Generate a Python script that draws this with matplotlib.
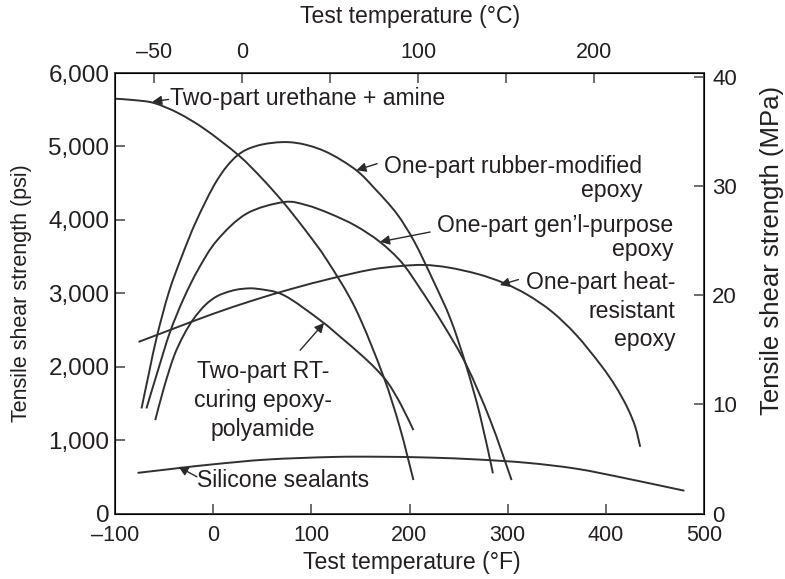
import matplotlib
matplotlib.use("Agg")
import matplotlib.pyplot as plt
import numpy as np
from matplotlib.path import Path
from matplotlib.patches import PathPatch
from matplotlib.ticker import FuncFormatter, FixedLocator

plt.rcParams['font.family'] = ['Liberation Sans', 'DejaVu Sans']

# ---- data ----
urethane_F = [-100, -80, -60, -35, -8, 26, 50, 72, 95, 116, 145, 173, 190, 204]
urethane_psi = [5650, 5630, 5590, 5450, 5230, 4878, 4560, 4229, 3840, 3449, 2790, 1884, 1180, 456]

rubber_F = [-73, -65, -57, -45, -32, -17, 4, 24, 45, 72, 95, 119, 146, 165, 187, 205, 224, 242, 258, 272, 285]
rubber_psi = [1431, 1940, 2430, 3020, 3500, 3990, 4540, 4870, 5010, 5059, 5020, 4901, 4673, 4420, 4084, 3700, 3177, 2640, 2000, 1330, 547]

general_F = [-68, -56, -44, -30, -15, 4, 34, 72, 95, 119, 145, 170, 192, 211, 235, 258, 282, 304]
general_psi = [1431, 1960, 2470, 2930, 3330, 3721, 4084, 4242, 4200, 4084, 3920, 3698, 3420, 3060, 2560, 2020, 1280, 456]

rt_F = [-59, -50, -40, -30, -20, -8, 4, 18, 30, 45, 72, 109, 130, 150, 165, 178, 191, 204]
rt_psi = [1272, 1720, 2140, 2430, 2650, 2840, 2960, 3030, 3060, 3060, 2973, 2633, 2400, 2170, 1980, 1780, 1490, 1136]

heat_F = [-76, -40, 0, 40, 80, 120, 160, 190, 215, 240, 270, 296, 320, 345, 370, 395, 410, 422, 430, 435]
heat_psi = [2337, 2520, 2720, 2900, 3060, 3200, 3320, 3370, 3385, 3350, 3260, 3140, 2980, 2750, 2430, 2020, 1730, 1440, 1180, 909]

silicone_F = [-77, -34, 0, 55, 122, 170, 220, 270, 320, 370, 420, 480]
silicone_psi = [553, 620, 670, 735, 770, 773, 762, 735, 690, 610, 480, 310]

f_ticks = [-100, 0, 100, 200, 300, 400, 500]
psi_ticks = [0, 1000, 2000, 3000, 4000, 5000, 6000]
c_ticks = [-50, 0, 50, 100, 150, 200]
c_labels = ['\u201350', '0', '', '100', '', '200']
mpa_ticks = [0, 10, 20, 30, 40]

LINE = '#303030'
TXT = '#231f20'
AX = '#444444'

W, H = 785, 579
fig = plt.figure(figsize=(W / 100, H / 100), dpi=100)
L, R, T, B = 115, 704, 73, 513.5
ax = fig.add_axes([L / W, 1 - B / H, (R - L) / W, (B - T) / H])
ax.set_xlim(-100, 500)
ax.set_ylim(0, 6000)

for s in ax.spines.values():
    s.set_color(AX)
    s.set_linewidth(1.3)

tick_kw = dict(direction='in', length=7.5, width=1.1, color=AX, labelcolor=TXT)
ax.tick_params(axis='both', **tick_kw)
ax.tick_params(axis='x', pad=8.5, labelsize=15.5)
ax.tick_params(axis='y', pad=4, labelsize=17.5)
ax.xaxis.set_major_locator(FixedLocator(f_ticks))
ax.yaxis.set_major_locator(FixedLocator(psi_ticks))
ax.xaxis.set_major_formatter(FuncFormatter(lambda v, p: ('\u2013%d' % -v) if v < 0 else '%d' % v))
ax.yaxis.set_major_formatter(FuncFormatter(lambda v, p: '{:,.0f}'.format(v)))

# top axis (deg C)
axt = ax.twiny()
axt.set_xlim(-72.2, 262.5)
axt.xaxis.set_major_locator(FixedLocator(c_ticks))
axt.set_xticklabels(c_labels)
axt.tick_params(axis='x', labelsize=15.5, pad=7, **tick_kw)
for s in axt.spines.values():
    s.set_color(AX)
    s.set_linewidth(1.3)

# right axis (MPa)
axr = ax.twinx()
axr.set_ylim(0, 40.37)
axr.yaxis.set_major_locator(FixedLocator(mpa_ticks))
axr.tick_params(axis='y', labelsize=16, pad=6, **tick_kw)


def smooth_curve(xs, ys):
    """Catmull-Rom curve through the read points, drawn as cubic Bezier path."""
    p = np.column_stack([xs, ys]).astype(float)
    n = len(p)
    verts = [p[0]]
    codes = [Path.MOVETO]
    for i in range(n - 1):
        p0 = p[i - 1] if i > 0 else p[i]
        p1 = p[i]
        p2 = p[i + 1]
        p3 = p[i + 2] if i + 2 < n else p[i + 1]
        c1 = p1 + (p2 - p0) / 6.0
        c2 = p2 - (p3 - p1) / 6.0
        verts += [c1, c2, p2]
        codes += [Path.CURVE4] * 3
    return Path(verts, codes)


for xs, ys in [(urethane_F, urethane_psi), (rubber_F, rubber_psi), (general_F, general_psi),
               (rt_F, rt_psi), (heat_F, heat_psi), (silicone_F, silicone_psi)]:
    ax.add_patch(PathPatch(smooth_curve(xs, ys), facecolor='none', edgecolor=LINE, lw=1.4,
                           capstyle='butt'))

afs = 16.6
arrow = dict(arrowstyle='-|>', color='#2a2a2a', lw=1.0, mutation_scale=14, shrinkA=0, shrinkB=0)


def arr(tail, tip):
    ax.annotate('', xy=tip, xytext=tail, arrowprops=arrow)


ax.text(-43.8, 5653, 'Two-part urethane + amine', fontsize=afs, color=TXT, ha='left', va='center')
arr((-45.5, 5640), (-62, 5608))

ax.text(437, 4885, 'One-part rubber-modified\nepoxy', fontsize=afs, color=TXT, ha='right', va='top',
        multialignment='right', linespacing=1.09)
arr((167, 4765), (146, 4676))

ax.text(469, 4085, 'One-part gen\u2019l-purpose\nepoxy', fontsize=afs, color=TXT, ha='right', va='top',
        multialignment='right', linespacing=1.09)
arr((221, 3834), (170, 3700))

ax.text(471, 3300, 'One-part heat-\nresistant\nepoxy', fontsize=afs, color=TXT, ha='right', va='top',
        multialignment='right', linespacing=1.3)
arr((311, 3186), (292, 3112))

ax.text(51, 2085, 'Two-part RT-\ncuring epoxy-\npolyamide', fontsize=afs, color=TXT, ha='center', va='top',
        multialignment='center', linespacing=1.32)
arr((88.6, 2224), (113, 2596))

ax.text(-16.3, 456, 'Silicone sealants', fontsize=afs, color=TXT, ha='left', va='center')
arr((-16.6, 500), (-35.3, 637))

fig.text(412 / W, 1 - 563 / H, 'Test temperature (\u00b0F)', fontsize=16.6, color=TXT, ha='center', va='center')
fig.text(410 / W, 1 - 17 / H, 'Test temperature (\u00b0C)', fontsize=16.6, color=TXT, ha='center', va='center')
fig.text(22 / W, 1 - 293 / H, 'Tensile shear strength (psi)', fontsize=15.5, color=TXT, ha='center', va='center', rotation=90)
fig.text(772 / W, 1 - 250 / H, 'Tensile shear strength (MPa)', fontsize=18.5, color=TXT, ha='center', va='center', rotation=90)

fig.savefig('out.png', dpi=100)
